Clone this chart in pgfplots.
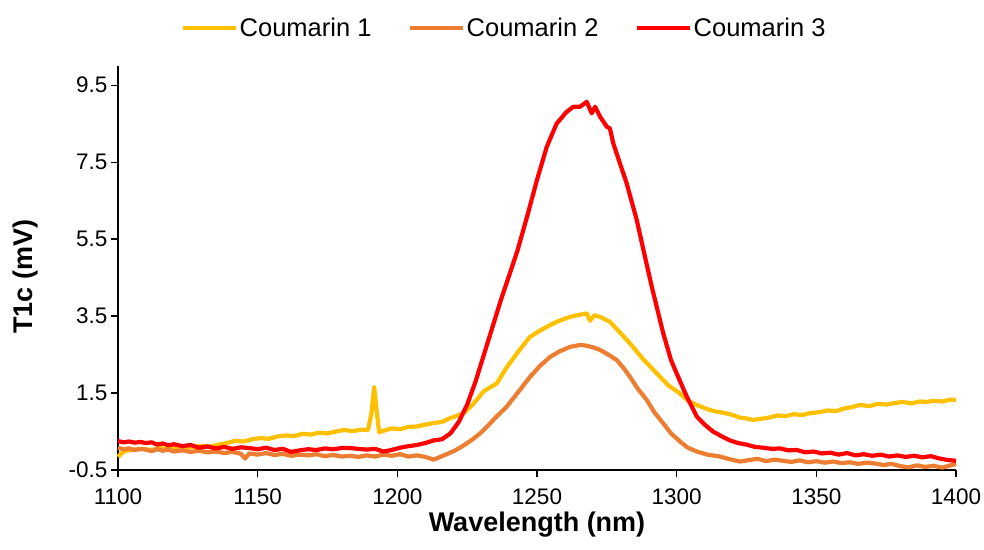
\documentclass[border=0pt]{standalone}
\usepackage{pgfplots}
\pgfplotsset{compat=1.18}
\usepackage{fontspec}
\setmainfont{Liberation Sans}
\definecolor{cA}{HTML}{FFC000}
\definecolor{cB}{HTML}{ED7D31}
\definecolor{cC}{HTML}{FF0000}

\begin{document}
\begin{tikzpicture}
\useasboundingbox (0,0) rectangle (984pt,549pt);
\begin{axis}[
  at={(118pt,79pt)}, anchor=south west,
  scale only axis, width=838pt, height=404pt,
  xmin=1100, xmax=1400, ymin=-0.5, ymax=10,
  clip=false,
  axis x line=bottom, axis y line=left,
  axis line style={-, line width=1.3pt, black},
  xtick={1100,1150,1200,1250,1300,1350,1400},
  ytick={-0.5,1.5,3.5,5.5,7.5,9.5},
  tick align=outside, major tick length=7pt,
  tick style={line width=1.3pt, black},
  /pgf/number format/assume math mode=true,
  ticklabel style={font=\fontsize{22.5}{26}\selectfont},
  yticklabel style={/pgf/number format/fixed, /pgf/number format/fixed zerofill, /pgf/number format/precision=1},
  xticklabel style={/pgf/number format/set thousands separator={}, yshift=-10pt, inner sep=2pt},
  xlabel={Wavelength (nm)},
  ylabel={T1c (mV)},
  xlabel style={at={(axis description cs:0.5,-0.153)}, anchor=base, inner sep=0pt, font=\bfseries\fontsize{27}{32}\selectfont},
  ylabel style={at={(axis description cs:-0.1100,0.478)}, anchor=center, font=\bfseries\fontsize{27}{32}\selectfont},
  legend columns=-1,
  legend style={at={(axis description cs:0.4606,1.095)}, anchor=center, draw=none, fill=none,
    font=\fontsize{25.5}{30}\selectfont,
    /tikz/every even column/.append style={column sep=34pt}},
  legend image code/.code={\draw[#1] (0pt,0pt) -- (53pt,0pt);},
  every axis plot/.append style={line width=4.2pt, line join=round},
]
\addplot[cA] table {
1100 -0.16
1101.5 -0.05
1103 0.0
1106 0.03
1109 0.05
1112 0.02
1115 0.07
1118 0.04
1121 0.08
1124 0.06
1127 0.1
1130 0.13
1133 0.11
1136 0.16
1139 0.2
1142 0.26
1145 0.24
1148 0.3
1151 0.33
1154 0.31
1157 0.37
1160 0.4
1163 0.38
1166 0.44
1169 0.42
1172 0.47
1175 0.45
1178 0.5
1181 0.54
1184 0.51
1187 0.55
1189.5 0.54
1190.8 1.0
1191.7 1.66
1192.5 1.1
1193.5 0.48
1195 0.52
1198 0.58
1201 0.56
1204 0.62
1207 0.63
1210 0.68
1213 0.72
1216 0.75
1219 0.85
1223.6 0.97
1227 1.2
1231 1.55
1235.6 1.75
1239 2.15
1243 2.55
1247.5 2.96
1250.5 3.1
1253.5 3.22
1257 3.35
1261.8 3.48
1265 3.53
1267.8 3.57
1269 3.38
1270.5 3.52
1272.6 3.48
1276.1 3.35
1280 3.05
1283.3 2.79
1288 2.38
1292.9 2.01
1297 1.7
1301.2 1.49
1304 1.3
1307.2 1.19
1311 1.08
1314 1.02
1317.9 0.97
1320 0.93
1322.7 0.86
1325 0.84
1327.4 0.8
1330 0.83
1333 0.86
1336 0.92
1339 0.9
1342 0.95
1345 0.93
1347.8 0.98
1351 1.0
1354 1.05
1357 1.03
1360 1.1
1363 1.14
1365.7 1.19
1369 1.16
1372 1.22
1375 1.2
1378 1.24
1381 1.27
1384 1.23
1387 1.28
1389.6 1.27
1392 1.3
1395 1.28
1398 1.33
1400 1.32
};
\addlegendentry{Coumarin 1}
\addplot[cB] table {
1100 0.08
1102 0.04
1104 0.06
1106 0.02
1108 0.05
1110 0.03
1112 -0.01
1114 0.04
1116 0.0
1118 0.03
1120 -0.02
1123 0.01
1126 -0.03
1129 0.0
1132 -0.04
1135 -0.02
1138 -0.06
1141 -0.03
1144 -0.08
1145.5 -0.2
1147 -0.07
1150 -0.1
1153 -0.06
1156 -0.11
1159 -0.08
1162 -0.13
1165 -0.1
1168 -0.12
1171 -0.09
1174 -0.14
1177 -0.11
1180 -0.15
1183 -0.13
1186 -0.16
1189 -0.12
1192 -0.15
1195 -0.1
1198 -0.13
1201 -0.09
1204 -0.15
1207 -0.12
1210 -0.16
1213 -0.23
1215 -0.17
1218 -0.08
1221 0.02
1224 0.15
1227 0.3
1229.6 0.45
1232 0.62
1235 0.85
1239.2 1.15
1243 1.5
1247.5 1.92
1251 2.2
1254.7 2.44
1258 2.58
1261.8 2.7
1265.4 2.75
1267.8 2.73
1270 2.69
1272.6 2.62
1275.5 2.5
1278.5 2.36
1281 2.15
1283.3 1.92
1286 1.62
1289.3 1.32
1292 1.0
1295.2 0.71
1298 0.45
1301.2 0.24
1304 0.08
1307.2 -0.02
1311 -0.1
1315.5 -0.15
1319 -0.22
1322.7 -0.28
1326 -0.24
1329 -0.21
1332 -0.27
1335 -0.23
1338 -0.26
1341 -0.29
1344 -0.25
1347 -0.3
1350 -0.27
1353 -0.31
1356 -0.28
1359 -0.32
1362 -0.3
1365 -0.34
1368 -0.31
1371 -0.33
1374 -0.37
1377 -0.34
1380 -0.4
1383 -0.43
1386 -0.38
1389 -0.42
1392 -0.39
1395 -0.44
1398 -0.38
1400 -0.34
};
\addlegendentry{Coumarin 2}
\addplot[cC] table {
1100 0.25
1102 0.22
1104 0.24
1106 0.21
1108 0.23
1110 0.2
1112 0.22
1114 0.16
1116 0.19
1118 0.14
1120 0.17
1123 0.12
1126 0.15
1129 0.08
1132 0.11
1135 0.06
1138 0.1
1141 0.05
1144 0.09
1147 0.07
1150 0.04
1153 0.08
1156 0.02
1159 0.05
1162 -0.03
1165 0.01
1168 0.04
1171 0.02
1174 0.06
1177 0.04
1180 0.07
1183 0.07
1186 0.05
1189 0.03
1192 0.05
1195 -0.02
1198 0.02
1201 0.08
1204 0.12
1207 0.15
1210 0.2
1213 0.27
1216 0.3
1219 0.45
1222 0.75
1225 1.2
1228 1.8
1231 2.5
1234 3.2
1237 3.9
1240 4.55
1243 5.2
1246.5 6.1
1250 7.04
1253.5 7.9
1257 8.5
1260.5 8.8
1263 8.94
1265.4 8.94
1267.8 9.07
1269.6 8.77
1270.8 8.94
1272.6 8.68
1275 8.42
1276.1 8.38
1277.3 7.99
1279.7 7.47
1282.1 6.95
1285.7 6.0
1288.1 5.22
1291.1 4.26
1295.2 3.05
1298 2.35
1300 2.01
1303.6 1.41
1307.2 0.89
1310 0.68
1313 0.5
1316 0.38
1319 0.27
1322 0.2
1325 0.16
1328 0.1
1331 0.08
1334 0.05
1337 0.06
1340 0.01
1343 0.02
1346 -0.04
1349 -0.02
1352 -0.07
1355 -0.05
1358 -0.1
1361 -0.06
1364 -0.12
1367 -0.09
1370 -0.13
1373 -0.1
1376 -0.15
1379 -0.12
1382 -0.16
1385 -0.13
1388 -0.17
1391 -0.14
1394 -0.2
1397 -0.24
1400 -0.26
};
\addlegendentry{Coumarin 3}
\end{axis}
\end{tikzpicture}
\end{document}
